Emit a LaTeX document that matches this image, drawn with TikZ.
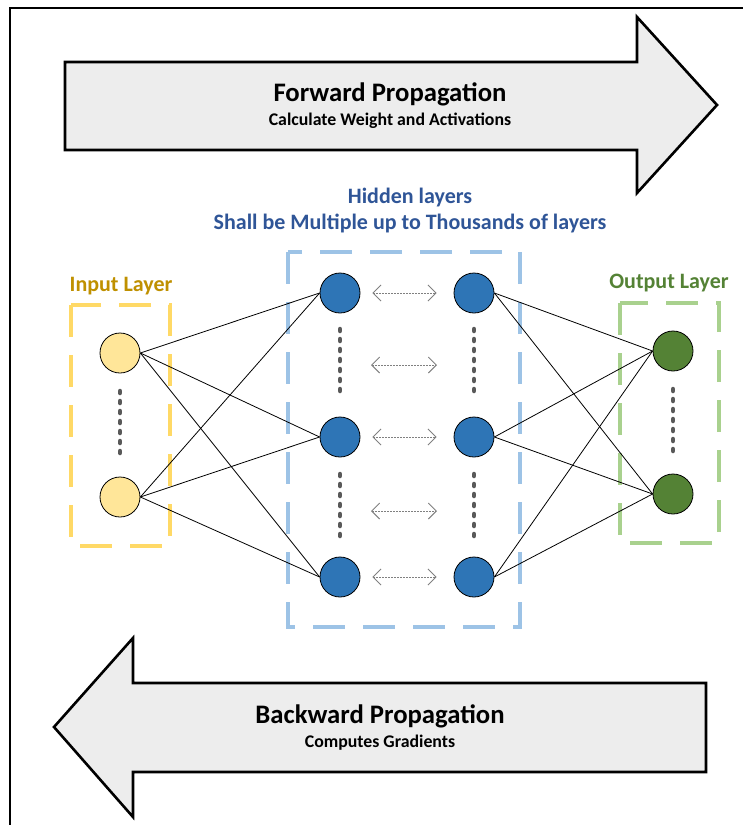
\documentclass[tikz,border=0pt]{standalone}
\usepackage{fontspec}
\setmainfont{Carlito}
\usetikzlibrary{arrows.meta}

\definecolor{arrowfill}{HTML}{EDEDED}
\definecolor{inFill}{HTML}{FFE699}
\definecolor{inLine}{HTML}{FFD966}
\definecolor{inText}{HTML}{BF9000}
\definecolor{hidFill}{HTML}{2E75B6}
\definecolor{hidLine}{HTML}{9DC3E6}
\definecolor{hidText}{HTML}{2F5597}
\definecolor{outFill}{HTML}{548235}
\definecolor{outLine}{HTML}{A9D18E}
\definecolor{dotGray}{HTML}{595959}

\tikzset{
  bigarrow/.style={draw=black, line width=2.6pt, fill=arrowfill, line join=miter},
  neuron/.style={circle, draw=black, line width=0.8pt, minimum size=40pt, inner sep=0pt},
  layerbox/.style={line width=4pt, dash pattern=on 32pt off 18pt},
  vdots/.style={draw=dotGray, line width=4.5pt, line cap=round, dash pattern=on 2pt off 8pt},
  link/.style={draw=black, line width=0.8pt},
  swap/.style={draw=gray, line width=0.8pt, dash pattern=on 1.5pt off 1.5pt,
    {Straight Barb[length=8pt,width=16pt,line width=0.9pt]}-{Straight Barb[length=8pt,width=16pt,line width=0.9pt]}},
  title/.style={font=\bfseries\fontsize{26.7}{30}\selectfont},
  subtitle/.style={font=\bfseries\fontsize{17.8}{21}\selectfont},
  label/.style={font=\bfseries\fontsize{22}{26}\selectfont},
}

\begin{document}
\begin{tikzpicture}[x=1pt, y=-1pt]
\useasboundingbox (0,0) rectangle (743,825);

% outer frame (open to the right and bottom)
\draw[line width=1.6pt] (10,825) -- (10,8) -- (743,8);

% forward propagation arrow
\draw[bigarrow] (65,62) -- (637,62) -- (637,17) -- (717,105) -- (637,193) -- (637,150) -- (65,150) -- cycle;
\node[title] (fwd) at (390,94) {Forward Propagation};
\node[subtitle] (fwdsub) at (390,121) {Calculate Weight and Activations};

% backward propagation arrow
\draw[bigarrow] (706,683) -- (133,683) -- (133,638) -- (54,727) -- (133,817) -- (133,772) -- (706,772) -- cycle;
\node[title] (bwd) at (380,716) {Backward Propagation};
\node[subtitle] (bwdsub) at (380,743) {Computes Gradients};

% layer titles
\node[label, text=hidText, align=center] (hidtitle) at (410,211) {Hidden layers\\Shall be Multiple up to Thousands of layers};
\node[label, text=inText] (intitle) at (121,286) {Input Layer};
\node[label, text=outFill] (outtitle) at (669,283) {Output Layer};

% dashed layer boxes
\draw[layerbox, draw=inLine] (71,305) rectangle (170,546);
\draw[layerbox, draw=hidLine] (288,252) rectangle (520,627);
\draw[layerbox, draw=outLine] (620,303) rectangle (719,543);

% neurons
\node[neuron, fill=inFill] (in1) at (120,353) {};
\node[neuron, fill=inFill] (in2) at (120,497) {};

\node[neuron, fill=hidFill] (h11) at (340,293) {};
\node[neuron, fill=hidFill] (h12) at (340,437) {};
\node[neuron, fill=hidFill] (h13) at (340,577) {};
\node[neuron, fill=hidFill] (h21) at (474,293) {};
\node[neuron, fill=hidFill] (h22) at (474,437) {};
\node[neuron, fill=hidFill] (h23) at (474,577) {};

\node[neuron, fill=outFill] (o1) at (673,351) {};
\node[neuron, fill=outFill] (o2) at (673,494) {};

% connections
\foreach \a in {in1,in2}
  \foreach \b in {h11,h12,h13}
    \draw[link] (\a.east) -- (\b.west);
\foreach \a in {h21,h22,h23}
  \foreach \b in {o1,o2}
    \draw[link] (\a.east) -- (\b.west);

% vertical ellipses
\draw[vdots] (120,391) -- (120,460);
\draw[vdots] (340,329) -- (340,398);
\draw[vdots] (340,474) -- (340,543);
\draw[vdots] (474,329) -- (474,398);
\draw[vdots] (474,474) -- (474,543);
\draw[vdots] (673,389) -- (673,458);

% links between the hidden columns
\coordinate (ma1) at (371,365);
\coordinate (mb1) at (437,365);
\coordinate (ma2) at (371,511);
\coordinate (mb2) at (437,511);
\draw[swap, shorten <=12pt, shorten >=17pt] (h11.east) -- (h21.west);
\draw[swap] (ma1) -- (mb1);
\draw[swap, shorten <=12pt, shorten >=17pt] (h12.east) -- (h22.west);
\draw[swap] (ma2) -- (mb2);
\draw[swap, shorten <=12pt, shorten >=17pt] (h13.east) -- (h23.west);
\end{tikzpicture}
\end{document}
